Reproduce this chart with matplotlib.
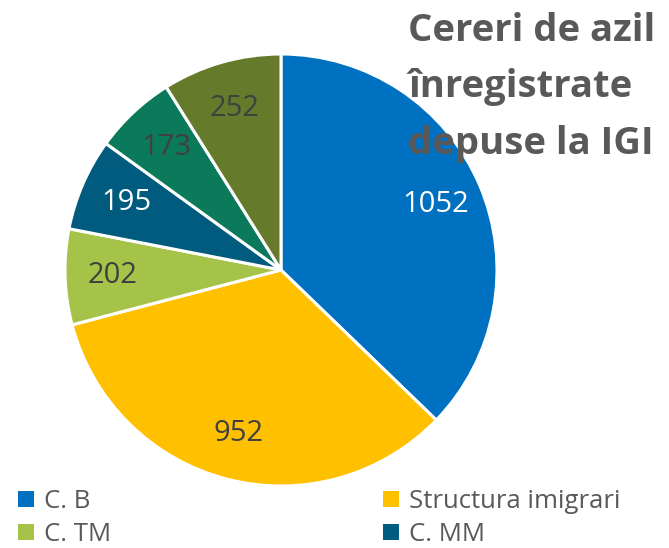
import matplotlib
matplotlib.use("Agg")
import matplotlib.pyplot as plt
from matplotlib.patches import Patch

plt.rcParams['font.family'] = ['Open Sans', 'DejaVu Sans']

# data
categories = ['C. B', 'Structura imigrari', 'C. TM', 'C. MM', 'C. 5', 'C. 6']
values = [1052, 952, 202, 195, 173, 252]
colors = ['#0070C0', '#FFC000', '#A5C249', '#005B7E', '#0B7A5B', '#667A2B']
label_colors = ['white', '#404040', '#404040', 'white', '#404040', '#404040']
legend_shown = 4  # only the first two rows of the legend fit in the image

title = 'Cereri de azil\nînregistrate\ndepuse la IGI'

W, H = 669, 548
fig = plt.figure(figsize=(W / 100, H / 100), dpi=100)

# pie centre and radius in pixels
cx, cy, r = 281, 270, 216
lim = 1.03
half = r * lim
ax = fig.add_axes([(cx - half) / W, (H - cy - half) / H, 2 * half / W, 2 * half / H])

total = sum(values)
wedges, _, autotexts = ax.pie(
    values, colors=colors, startangle=90, counterclock=False,
    autopct=lambda p: f'{p * total / 100:.0f}', pctdistance=0.78,
    wedgeprops=dict(edgecolor='white', linewidth=2.2),
    textprops=dict(fontsize=21),
)
for t, c in zip(autotexts, label_colors):
    t.set_color(c)
ax.set_xlim(-lim, lim)
ax.set_ylim(-lim, lim)
ax.set_aspect('auto')

fig.text(408 / W, 1 - 12 / H, title, ha='left', va='top', fontsize=27.5,
         fontweight='bold', color='#595959', linespacing=1.63, zorder=5)

handles = [Patch(facecolor=colors[i], edgecolor='none') for i in range(legend_shown)]
labels = categories[:legend_shown]
# ncol=2 fills column-wise, so reorder to get row order B, Structura / TM, MM
order = [0, 2, 1, 3]
fig.legend([handles[i] for i in order], [labels[i] for i in order],
           loc='upper left', bbox_to_anchor=(8 / W, 1 - 479 / H), ncol=2,
           frameon=False, fontsize=18.5, handlelength=0.6, handleheight=0.6,
           handletextpad=0.4, columnspacing=10.6, labelspacing=0.3,
           labelcolor='#595959', borderaxespad=0)

fig.savefig('out.png', dpi=100)
